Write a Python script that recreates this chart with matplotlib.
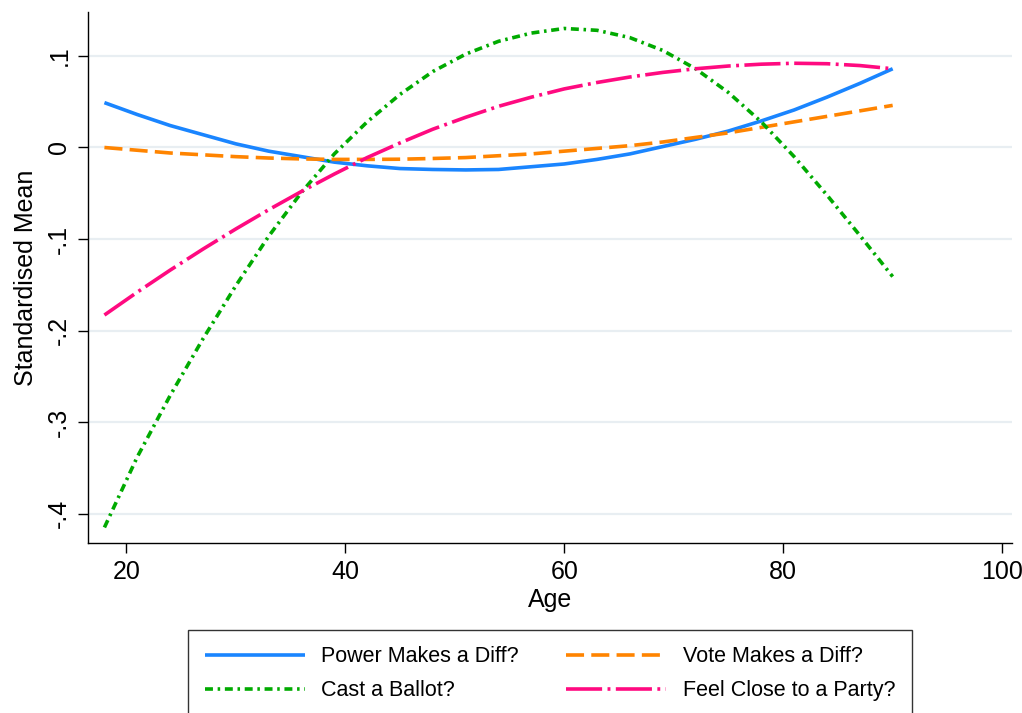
import matplotlib
matplotlib.use("Agg")
import matplotlib.pyplot as plt

plt.rcParams['font.family'] = ['Liberation Sans', 'DejaVu Sans']

ages = [18, 21, 24, 27, 30, 33, 36, 39, 42, 45, 48, 51, 54, 57, 60, 63, 66, 69, 72, 75, 78, 81, 84, 87, 90]

power_makes_diff = [0.049, 0.036, 0.024, 0.014, 0.004, -0.004, -0.010, -0.016, -0.020, -0.023,
                    -0.024, -0.0245, -0.024, -0.021, -0.018, -0.013, -0.007, 0.001, 0.009, 0.018,
                    0.029, 0.041, 0.055, 0.070, 0.086]

vote_makes_diff = [0.000, -0.003, -0.006, -0.008, -0.010, -0.0115, -0.0125, -0.013, -0.013, -0.0128,
                   -0.012, -0.011, -0.009, -0.007, -0.004, -0.001, 0.002, 0.006, 0.011, 0.016,
                   0.022, 0.028, 0.034, 0.040, 0.046]

cast_ballot = [-0.415, -0.338, -0.271, -0.209, -0.151, -0.097, -0.049, -0.007, 0.028, 0.058,
               0.083, 0.102, 0.116, 0.125, 0.130, 0.128, 0.120, 0.106, 0.086, 0.060,
               0.028, -0.010, -0.052, -0.096, -0.141]

feel_close_party = [-0.183, -0.158, -0.134, -0.111, -0.089, -0.068, -0.048, -0.029, -0.011, 0.005,
                    0.020, 0.033, 0.045, 0.055, 0.064, 0.071, 0.077, 0.082, 0.086, 0.089,
                    0.091, 0.092, 0.0915, 0.0895, 0.086]

series_labels = ["Power Makes a Diff?", "Vote Makes a Diff?", "Cast a Ballot?", "Feel Close to a Party?"]

x_ticks = [20, 40, 60, 80, 100]
y_ticks = [-0.4, -0.3, -0.2, -0.1, 0.0, 0.1]
y_tick_labels = ["-.4", "-.3", "-.2", "-.1", "0", ".1"]

W, H = 1022, 713
fig = plt.figure(figsize=(W / 100, H / 100), dpi=100)
ax = fig.add_axes([88 / W, 1 - 543 / H, (1012 - 88) / W, (543 - 12) / H])

lw = 2.6
l1, = ax.plot(ages, power_makes_diff, color="#1a85ff", lw=lw, solid_capstyle='butt')
l2, = ax.plot(ages, vote_makes_diff, color="#ff8400", lw=lw, dashes=(5.0, 2.0))
l3, = ax.plot(ages, cast_ballot, color="#00aa00", lw=lw, dashes=(2.2, 1.3, 0.7, 1.3))
l4, = ax.plot(ages, feel_close_party, color="#ff0a80", lw=lw, dashes=(10.0, 1.5, 0.8, 1.5))

ax.set_xlim(16.5, 100.9)
ax.set_ylim(-0.432, 0.148)
ax.set_xticks(x_ticks)
ax.set_xticklabels([str(t) for t in x_ticks])
ax.set_yticks(y_ticks)
ax.set_yticklabels(y_tick_labels, rotation=90, va='center')

ax.grid(axis='y', color="#e8eef2", lw=1.6)
ax.set_axisbelow(True)
for s in ['top', 'right']:
    ax.spines[s].set_visible(False)
for s in ['left', 'bottom']:
    ax.spines[s].set_linewidth(1.0)
    ax.spines[s].set_color('black')
ax.tick_params(axis='both', labelsize=18, length=7, width=1.0, direction='out', pad=5)

ax.set_xlabel("Age", fontsize=18, labelpad=3)
ax.set_ylabel("Standardised Mean", fontsize=18, labelpad=7)

# legend laid out row-wise like the reference (Power, Vote / Cast, Feel)
handles = [l1, l3, l2, l4]
labels = [series_labels[0], series_labels[2], series_labels[1], series_labels[3]]
leg = fig.legend(handles, labels, ncol=2,
                 loc='upper center', bbox_to_anchor=(550 / W, 1 - 630 / H),
                 fontsize=15.5, frameon=True, fancybox=False, edgecolor='black',
                 handlelength=4.65, handletextpad=0.77, columnspacing=2.2,
                 labelspacing=0.6, borderpad=0.75, borderaxespad=0.0)
leg.get_frame().set_linewidth(1.0)

fig.savefig("out.png", dpi=100, facecolor='white')
